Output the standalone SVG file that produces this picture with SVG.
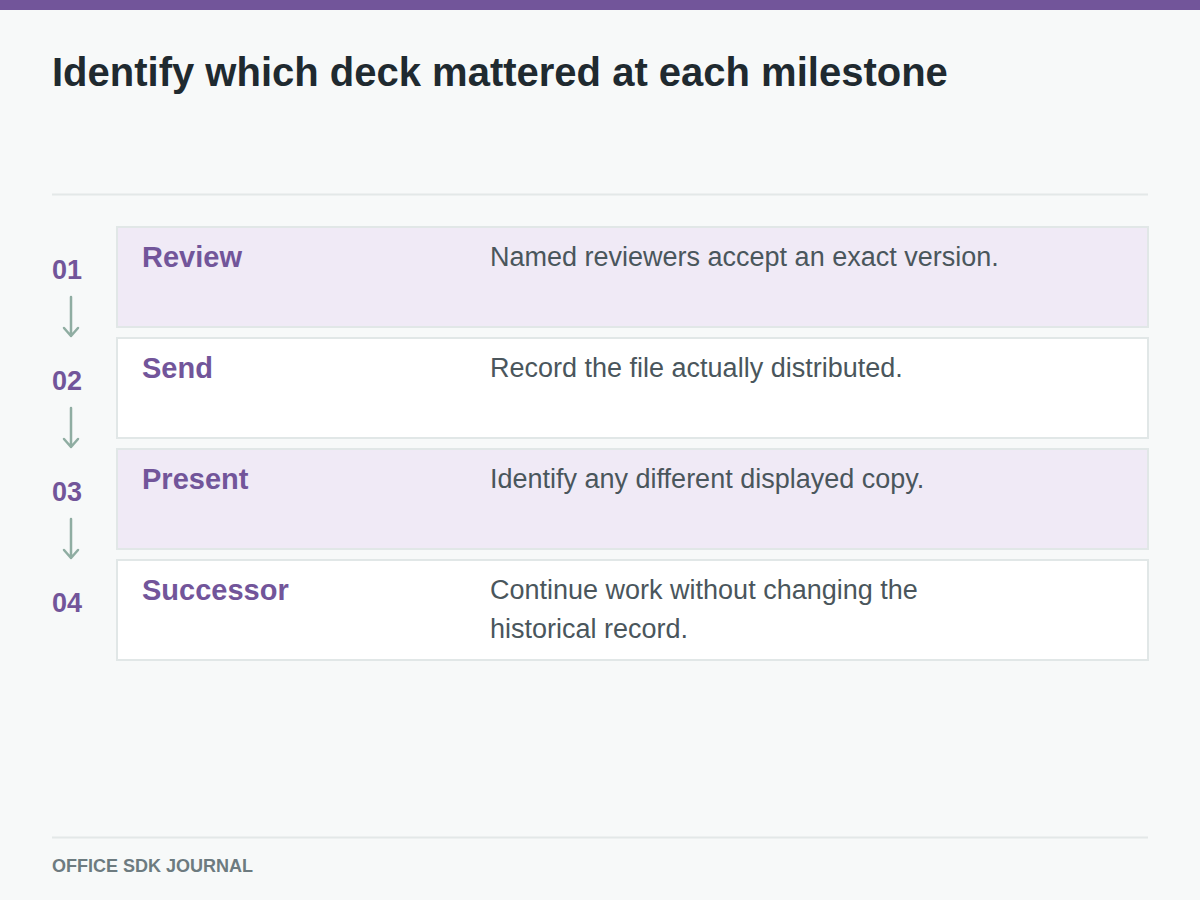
<svg xmlns="http://www.w3.org/2000/svg" width="1200" height="900" viewBox="0 0 1200 900">
<defs>
<style>
.bg{fill:#f7f9f9}
.bar{fill:#72559a}
.title{font-family:"Liberation Sans",Arial,sans-serif;font-weight:bold;font-size:40px;fill:#1f2a30}
.rule{stroke:#e3e8e8;stroke-width:2}
.row{stroke:#e1e7e7;stroke-width:2}
.alt{fill:#f0eaf6}
.plain{fill:#ffffff}
.num{font-family:"Liberation Sans",Arial,sans-serif;font-weight:bold;font-size:27px;fill:#72559a}
.label{font-family:"Liberation Sans",Arial,sans-serif;font-weight:bold;font-size:29px;fill:#72559a}
.desc{font-family:"Liberation Sans",Arial,sans-serif;font-size:27px;fill:#4a565c}
.foot{font-family:"Liberation Sans",Arial,sans-serif;font-weight:bold;font-size:18px;fill:#6d7b80}
.arrow{fill:none;stroke:#8fada2;stroke-width:2.5;stroke-linecap:round;stroke-linejoin:round}
</style>
</defs>
<rect class="bg" x="0" y="0" width="1200" height="900"/>
<rect class="bar" x="0" y="0" width="1200" height="10"/>
<text class="title" x="52" y="86">Identify which deck mattered at each milestone</text>
<line class="rule" x1="52" y1="194.5" x2="1148" y2="194.5"/>

<g id="step-01">
<rect class="row alt" x="117" y="227" width="1031" height="100"/>
<text class="num" x="52" y="279">01</text>
<text class="label" x="142" y="267">Review</text>
<text class="desc" x="490" y="266">Named reviewers accept an exact version.</text>
</g>
<g id="step-02">
<rect class="row plain" x="117" y="338" width="1031" height="100"/>
<text class="num" x="52" y="390">02</text>
<text class="label" x="142" y="378">Send</text>
<text class="desc" x="490" y="377">Record the file actually distributed.</text>
</g>
<g id="step-03">
<rect class="row alt" x="117" y="449" width="1031" height="100"/>
<text class="num" x="52" y="501">03</text>
<text class="label" x="142" y="489">Present</text>
<text class="desc" x="490" y="488">Identify any different displayed copy.</text>
</g>
<g id="step-04">
<rect class="row plain" x="117" y="560" width="1031" height="100"/>
<text class="num" x="52" y="612">04</text>
<text class="label" x="142" y="600">Successor</text>
<text class="desc" x="490" y="599">Continue work without changing the</text>
<text class="desc" x="490" y="638">historical record.</text>
</g>

<g id="connectors">
<path class="arrow" d="M71 297 V336 M64 328 L71 336 L78 328"/>
<path class="arrow" d="M71 408 V447 M64 439 L71 447 L78 439"/>
<path class="arrow" d="M71 519 V558 M64 550 L71 558 L78 550"/>
</g>

<line class="rule" x1="52" y1="837.5" x2="1148" y2="837.5"/>
<text class="foot" x="52" y="872">OFFICE SDK JOURNAL</text>
</svg>
